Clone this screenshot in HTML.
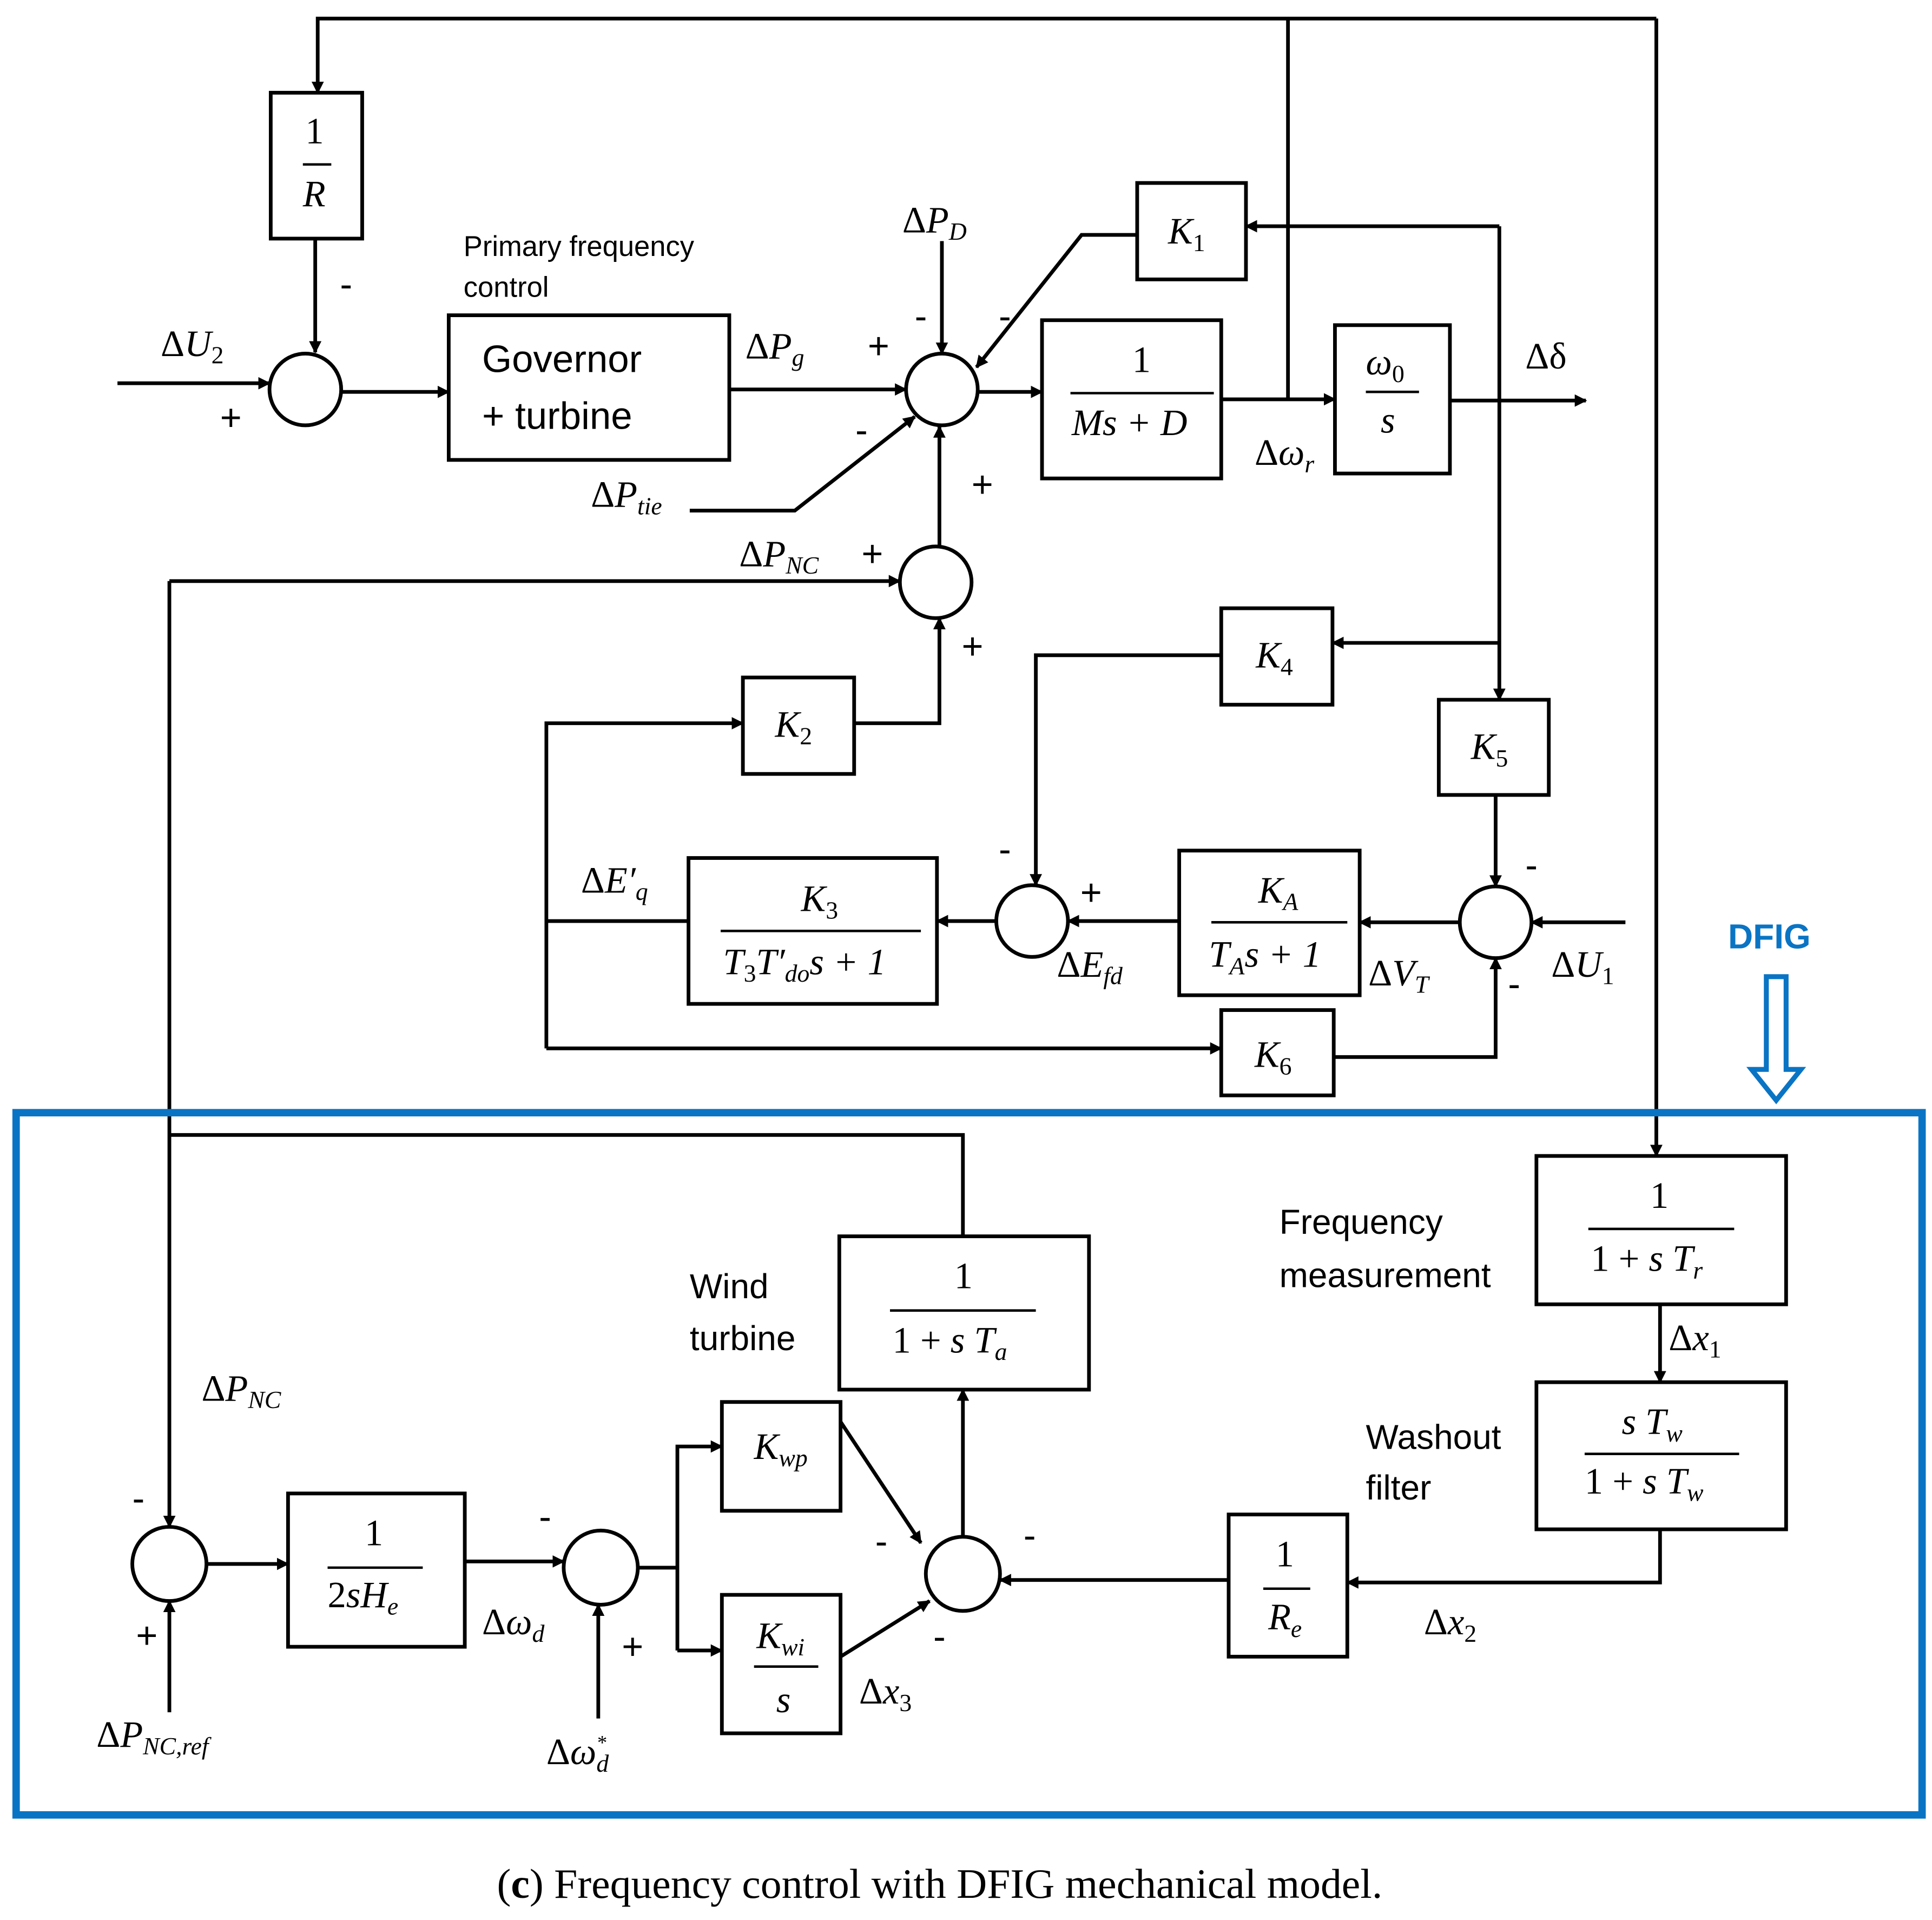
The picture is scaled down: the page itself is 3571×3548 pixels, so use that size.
<!DOCTYPE html>
<html><head><meta charset="utf-8"><style>
html,body{margin:0;padding:0;background:#fff;}
svg{display:block;}
text{font-family:"Liberation Serif",serif;font-style:italic;font-size:30px;fill:#000;}
.s{font-family:"Liberation Sans",sans-serif;font-style:normal;}
.n{font-style:normal;}
</style></head><body>
<svg width="3571" height="3548" viewBox="0 0 1563 1553" xmlns="http://www.w3.org/2000/svg">
<defs><marker id="a" markerWidth="10" markerHeight="10" refX="9" refY="5" orient="auto" markerUnits="userSpaceOnUse"><path d="M0,0 L10,5 L0,10 z" fill="#000"/></marker></defs>
<g fill="none" stroke="#000" stroke-width="3">
<rect x="219" y="75" width="74" height="118"/>
<rect x="363" y="255" width="227" height="117"/>
<rect x="920" y="148" width="88" height="78"/>
<rect x="843" y="259" width="145" height="128"/>
<rect x="1080" y="263" width="93" height="120"/>
<rect x="988" y="492" width="90" height="78"/>
<rect x="1164" y="566" width="89" height="77"/>
<rect x="954" y="688" width="146" height="117"/>
<rect x="557" y="694" width="201" height="118"/>
<rect x="601" y="548" width="90" height="78"/>
<rect x="988" y="817" width="91" height="69"/>
<rect x="679" y="1000" width="202" height="124"/>
<rect x="1243" y="935" width="202" height="120"/>
<rect x="1243" y="1118" width="202" height="119"/>
<rect x="994" y="1225" width="96" height="115"/>
<rect x="584" y="1134" width="96" height="88"/>
<rect x="584" y="1290" width="96" height="112"/>
<rect x="233" y="1208" width="143" height="124"/>
<circle cx="247" cy="315" r="29"/>
<circle cx="762" cy="315" r="29"/>
<circle cx="757" cy="471" r="29"/>
<circle cx="835" cy="745" r="29"/>
<circle cx="1210" cy="746" r="29"/>
<circle cx="137" cy="1265" r="30"/>
<circle cx="486" cy="1268" r="30"/>
<circle cx="779" cy="1273" r="30"/>
<polyline points="1340,15 257,15 257,75" marker-end="url(#a)"/>
<line x1="255" y1="193" x2="255" y2="285" marker-end="url(#a)"/>
<line x1="95" y1="310" x2="218" y2="310" marker-end="url(#a)"/>
<line x1="276" y1="317" x2="363" y2="317" marker-end="url(#a)"/>
<line x1="590" y1="315" x2="733" y2="315" marker-end="url(#a)"/>
<line x1="762" y1="195" x2="762" y2="286" marker-end="url(#a)"/>
<polyline points="920,190 875,190 790,297" marker-end="url(#a)"/>
<polyline points="558,413 643,413 740,337" marker-end="url(#a)"/>
<line x1="791" y1="317" x2="843" y2="317" marker-end="url(#a)"/>
<line x1="988" y1="323" x2="1080" y2="323" marker-end="url(#a)"/>
<line x1="1173" y1="324" x2="1283" y2="324" marker-end="url(#a)"/>
<line x1="1042" y1="15" x2="1042" y2="323"/>
<line x1="1340" y1="15" x2="1340" y2="935" marker-end="url(#a)"/>
<polyline points="1213,183 1008,183" marker-end="url(#a)"/>
<line x1="1213" y1="183" x2="1213" y2="566" marker-end="url(#a)"/>
<line x1="1213" y1="520" x2="1078" y2="520" marker-end="url(#a)"/>
<polyline points="988,530 838,530 838,716" marker-end="url(#a)"/>
<line x1="1210" y1="643" x2="1210" y2="717" marker-end="url(#a)"/>
<line x1="1315" y1="746" x2="1239" y2="746" marker-end="url(#a)"/>
<line x1="1181" y1="746" x2="1100" y2="746" marker-end="url(#a)"/>
<line x1="954" y1="745" x2="864" y2="745" marker-end="url(#a)"/>
<line x1="806" y1="745" x2="758" y2="745" marker-end="url(#a)"/>
<line x1="557" y1="745" x2="442" y2="745"/>
<polyline points="442,848 442,585 601,585" marker-end="url(#a)"/>
<polyline points="691,585 760,585 760,500" marker-end="url(#a)"/>
<line x1="442" y1="848" x2="988" y2="848" marker-end="url(#a)"/>
<polyline points="1079,855 1210,855 1210,775" marker-end="url(#a)"/>
<line x1="760" y1="442" x2="760" y2="345" marker-end="url(#a)"/>
<line x1="137" y1="470" x2="728" y2="470" marker-end="url(#a)"/>
<line x1="137" y1="470" x2="137" y2="1235" marker-end="url(#a)"/>
<polyline points="137,918 779,918 779,1000"/>
<line x1="1343" y1="1055" x2="1343" y2="1118" marker-end="url(#a)"/>
<polyline points="1343,1237 1343,1280 1090,1280" marker-end="url(#a)"/>
<line x1="994" y1="1278" x2="809" y2="1278" marker-end="url(#a)"/>
<line x1="779" y1="1243" x2="779" y2="1124" marker-end="url(#a)"/>
<line x1="680" y1="1150" x2="745" y2="1248" marker-end="url(#a)"/>
<line x1="680" y1="1340" x2="752" y2="1295" marker-end="url(#a)"/>
<line x1="516" y1="1268" x2="548" y2="1268"/>
<polyline points="548,1335 548,1170 584,1170" marker-end="url(#a)"/>
<line x1="548" y1="1335" x2="584" y2="1335" marker-end="url(#a)"/>
<line x1="167" y1="1265" x2="233" y2="1265" marker-end="url(#a)"/>
<line x1="376" y1="1263" x2="456" y2="1263" marker-end="url(#a)"/>
<line x1="137" y1="1385" x2="137" y2="1295" marker-end="url(#a)"/>
<line x1="484" y1="1390" x2="484" y2="1298" marker-end="url(#a)"/>
<line x1="245" y1="133" x2="268" y2="133" stroke-width="2"/>
<line x1="866" y1="318" x2="982" y2="318" stroke-width="2"/>
<line x1="1105" y1="317" x2="1148" y2="317" stroke-width="2"/>
<line x1="980" y1="746" x2="1090" y2="746" stroke-width="2"/>
<line x1="583" y1="753" x2="745" y2="753" stroke-width="2"/>
<line x1="720" y1="1060" x2="838" y2="1060" stroke-width="2"/>
<line x1="1285" y1="994" x2="1403" y2="994" stroke-width="2"/>
<line x1="1282" y1="1176" x2="1407" y2="1176" stroke-width="2"/>
<line x1="1022" y1="1285" x2="1060" y2="1285" stroke-width="2"/>
<line x1="610" y1="1348" x2="662" y2="1348" stroke-width="2"/>
<line x1="265" y1="1268" x2="342" y2="1268" stroke-width="2"/>
</g>
<rect x="13" y="900" width="1542" height="568" fill="none" stroke="#0a74c4" stroke-width="6"/>
<path d="M1429,790 h16 v75 h12 l-20,25 l-20,-25 h12 z" fill="none" stroke="#0a74c4" stroke-width="4"/>
<text x="1398" y="767" class="s" style="font-weight:bold;fill:#0a74c4;font-size:28px">DFIG</text>
<text x="247" y="116" class="n">1</text><text x="245" y="167">R</text>
<text x="390" y="301" class="s" style="font-size:31px">Governor</text>
<text x="390" y="347" class="s" style="font-size:31px">+ turbine</text>
<text x="945" y="197">K<tspan font-size="20" dy="6" class="n">1</tspan></text>
<text x="916" y="301" class="n">1</text><text x="867" y="352">Ms + D</text>
<text x="1105" y="303">ω<tspan font-size="20" dy="6" class="n">0</tspan></text><text x="1117" y="350">s</text>
<text x="1016" y="540">K<tspan font-size="20" dy="6" class="n">4</tspan></text>
<text x="1190" y="614">K<tspan font-size="20" dy="6" class="n">5</tspan></text>
<text x="1018" y="730">K<tspan font-size="20" dy="6">A</tspan></text>
<text x="978" y="782">T<tspan font-size="20" dy="6">A</tspan><tspan dy="-6">s + 1</tspan></text>
<text x="648" y="737">K<tspan font-size="20" dy="6" class="n">3</tspan></text>
<text x="585" y="788">T<tspan font-size="20" dy="6" class="n">3</tspan><tspan dy="-6">T′</tspan><tspan font-size="20" dy="6">do</tspan><tspan dy="-6">s + 1</tspan></text>
<text x="627" y="596">K<tspan font-size="20" dy="6" class="n">2</tspan></text>
<text x="1015" y="863">K<tspan font-size="20" dy="6" class="n">6</tspan></text>
<text x="772" y="1042" class="n">1</text><text x="722" y="1094"><tspan class="n">1 + </tspan>s T<tspan font-size="20" dy="6">a</tspan></text>
<text x="1335" y="977" class="n">1</text><text x="1287" y="1028"><tspan class="n">1 + </tspan>s T<tspan font-size="20" dy="6">r</tspan></text>
<text x="1312" y="1160">s T<tspan font-size="20" dy="6">w</tspan></text><text x="1282" y="1208"><tspan class="n">1 + </tspan>s T<tspan font-size="20" dy="6">w</tspan></text>
<text x="1032" y="1267" class="n">1</text><text x="1026" y="1318">R<tspan font-size="20" dy="6">e</tspan></text>
<text x="610" y="1180">K<tspan font-size="20" dy="6">wp</tspan></text>
<text x="612" y="1333">K<tspan font-size="20" dy="6">wi</tspan></text><text x="628" y="1385">s</text>
<text x="295" y="1250" class="n">1</text><text x="265" y="1300"><tspan class="n">2</tspan>sH<tspan font-size="20" dy="6">e</tspan></text>
<text x="375" y="207" class="s" style="font-size:23px">Primary frequency</text>
<text x="375" y="240" class="s" style="font-size:23px">control</text>
<text x="130" y="288"><tspan class="n">Δ</tspan>U<tspan font-size="20" dy="6" class="n">2</tspan></text>
<text x="603" y="290"><tspan class="n">Δ</tspan>P<tspan font-size="20" dy="6">g</tspan></text>
<text x="730" y="188"><tspan class="n">Δ</tspan>P<tspan font-size="20" dy="6">D</tspan></text>
<text x="478" y="410"><tspan class="n">Δ</tspan>P<tspan font-size="20" dy="6">tie</tspan></text>
<text x="598" y="458"><tspan class="n">Δ</tspan>P<tspan font-size="20" dy="6">NC</tspan></text>
<text x="1234" y="298" class="n">Δδ</text>
<text x="1015" y="376"><tspan class="n">Δ</tspan>ω<tspan font-size="20" dy="6">r</tspan></text>
<text x="470" y="722"><tspan class="n">Δ</tspan>E′<tspan font-size="20" dy="6">q</tspan></text>
<text x="855" y="790"><tspan class="n">Δ</tspan>E<tspan font-size="20" dy="6">fd</tspan></text>
<text x="1107" y="797"><tspan class="n">Δ</tspan>V<tspan font-size="20" dy="6">T</tspan></text>
<text x="1255" y="790"><tspan class="n">Δ</tspan>U<tspan font-size="20" dy="6" class="n">1</tspan></text>
<text x="1035" y="998" class="s" style="font-size:28px">Frequency</text>
<text x="1035" y="1041" class="s" style="font-size:28px">measurement</text>
<text x="558" y="1050" class="s" style="font-size:28px">Wind</text>
<text x="558" y="1092" class="s" style="font-size:28px">turbine</text>
<text x="1105" y="1172" class="s" style="font-size:28px">Washout</text>
<text x="1105" y="1213" class="s" style="font-size:28px">filter</text>
<text x="1350" y="1092"><tspan class="n">Δ</tspan>x<tspan font-size="20" dy="6" class="n">1</tspan></text>
<text x="1152" y="1322"><tspan class="n">Δ</tspan>x<tspan font-size="20" dy="6" class="n">2</tspan></text>
<text x="695" y="1378"><tspan class="n">Δ</tspan>x<tspan font-size="20" dy="6" class="n">3</tspan></text>
<text x="163" y="1133"><tspan class="n">Δ</tspan>P<tspan font-size="20" dy="6">NC</tspan></text>
<text x="78" y="1413"><tspan class="n">Δ</tspan>P<tspan font-size="20" dy="6">NC,ref</tspan></text>
<text x="390" y="1322"><tspan class="n">Δ</tspan>ω<tspan font-size="20" dy="6">d</tspan></text>
<text x="442" y="1427"><tspan class="n">Δ</tspan>ω<tspan font-size="20" dy="6">d</tspan><tspan font-size="16" dx="-10" dy="-18">*</tspan></text>
<g class="s" style="font-size:22px">
<text x="275" y="240" class="s">-</text><text x="178" y="348" class="s">+</text>
<text x="702" y="290" class="s">+</text><text x="740" y="266" class="s">-</text><text x="808" y="266" class="s">-</text>
<text x="692" y="358" class="s">-</text><text x="786" y="402" class="s">+</text>
<text x="697" y="458" class="s">+</text><text x="778" y="533" class="s">+</text>
<text x="808" y="697" class="s">-</text><text x="874" y="732" class="s">+</text>
<text x="1234" y="710" class="s">-</text><text x="1220" y="806" class="s">-</text>
<text x="107" y="1222" class="s">-</text><text x="110" y="1333" class="s">+</text>
<text x="436" y="1237" class="s">-</text><text x="503" y="1342" class="s">+</text>
<text x="708" y="1257" class="s">-</text><text x="755" y="1334" class="s">-</text><text x="828" y="1252" class="s">-</text>
</g>
<text x="402" y="1535" class="n" style="font-size:34px">(<tspan font-weight="bold">c</tspan>) Frequency control with DFIG mechanical model.</text>
</svg>
</body></html>
